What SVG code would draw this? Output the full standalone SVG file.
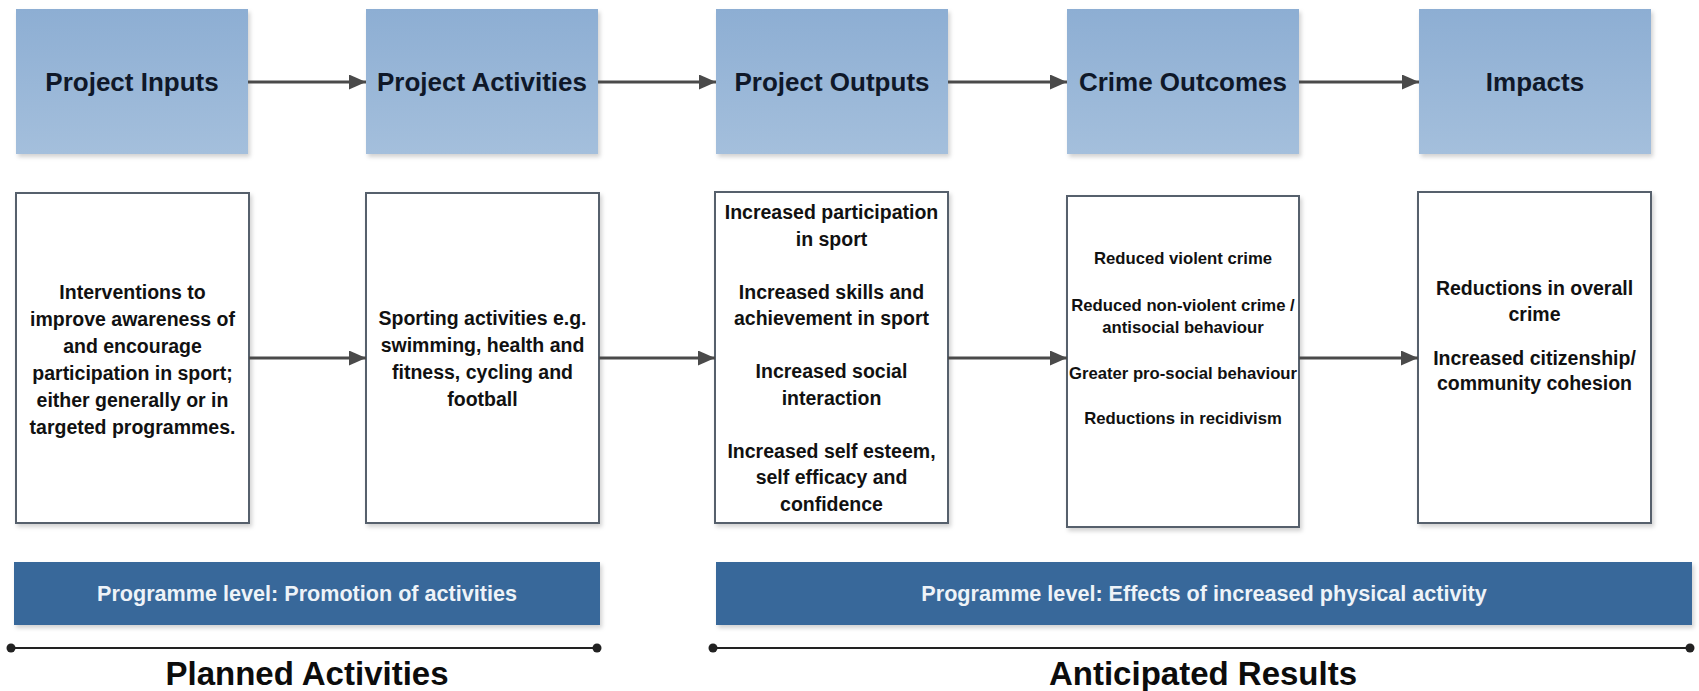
<svg xmlns="http://www.w3.org/2000/svg" width="1699" height="691" viewBox="0 0 1699 691">
  <defs>
    <linearGradient id="hdrGrad" x1="0" y1="0" x2="0" y2="1">
      <stop offset="0" stop-color="#8daed3"/>
      <stop offset="1" stop-color="#a4bfdc"/>
    </linearGradient>
    <filter id="shadow" x="-5%" y="-5%" width="115%" height="115%">
      <feDropShadow dx="2" dy="3" stdDeviation="2" flood-color="#000" flood-opacity="0.18"/>
    </filter>
    <marker id="arrow" markerUnits="userSpaceOnUse" markerWidth="18" markerHeight="16" refX="17" refY="7.5" orient="auto">
      <path d="M0,0 L17,7.5 L0,15 z" fill="#4a4a4a"/>
    </marker>
    <style>
      .hdr { fill: url(#hdrGrad); filter: url(#shadow); }
      .hdr-t { font-family: "Liberation Sans", Arial, sans-serif; font-weight: bold; font-size: 26px; fill: #0f1829; text-anchor: middle; }
      .box { fill: #ffffff; stroke: #56616c; stroke-width: 2; filter: url(#shadow); }
      .box-t { font-family: "Liberation Sans", Arial, sans-serif; font-weight: bold; font-size: 19.5px; fill: #111111; text-anchor: middle; }
      .box-s { font-family: "Liberation Sans", Arial, sans-serif; font-weight: bold; font-size: 16.7px; fill: #111111; text-anchor: middle; }
      .band { fill: #39689a; filter: url(#shadow); }
      .band-t { font-family: "Liberation Sans", Arial, sans-serif; font-weight: bold; font-size: 21.6px; fill: #eef3f8; text-anchor: middle; }
      .conn { stroke: #4a4a4a; stroke-width: 3; fill: none; marker-end: url(#arrow); }
      .tl { stroke: #222; stroke-width: 2.2; }
      .tl-dot { fill: #222; }
      .tl-t { font-family: "Liberation Sans", Arial, sans-serif; font-weight: bold; font-size: 33px; fill: #0c0c0c; text-anchor: middle; }
    </style>
  </defs>
  <rect width="1699" height="691" fill="#ffffff"/>

  <!-- Header nodes -->
  <g id="hdr-inputs">
    <rect class="hdr" x="16" y="9" width="232" height="145"/>
    <text class="hdr-t" x="132" y="91">Project Inputs</text>
  </g>
  <g id="hdr-activities">
    <rect class="hdr" x="366" y="9" width="232" height="145"/>
    <text class="hdr-t" x="482" y="91">Project Activities</text>
  </g>
  <g id="hdr-outputs">
    <rect class="hdr" x="716" y="9" width="232" height="145"/>
    <text class="hdr-t" x="832" y="91">Project Outputs</text>
  </g>
  <g id="hdr-outcomes">
    <rect class="hdr" x="1067" y="9" width="232" height="145"/>
    <text class="hdr-t" x="1183" y="91">Crime Outcomes</text>
  </g>
  <g id="hdr-impacts">
    <rect class="hdr" x="1419" y="9" width="232" height="145"/>
    <text class="hdr-t" x="1535" y="91">Impacts</text>
  </g>

  <!-- Detail nodes -->
  <g id="box-inputs">
    <rect class="box" x="16" y="193" width="233" height="330"/>
    <text class="box-t" x="132.5" y="299">Interventions to</text>
    <text class="box-t" x="132.5" y="326">improve awareness of</text>
    <text class="box-t" x="132.5" y="353">and encourage</text>
    <text class="box-t" x="132.5" y="380">participation in sport;</text>
    <text class="box-t" x="132.5" y="407">either generally or in</text>
    <text class="box-t" x="132.5" y="434">targeted programmes.</text>
  </g>
  <g id="box-activities">
    <rect class="box" x="366" y="193" width="233" height="330"/>
    <text class="box-t" x="482.5" y="325">Sporting activities e.g.</text>
    <text class="box-t" x="482.5" y="352">swimming, health and</text>
    <text class="box-t" x="482.5" y="379">fitness, cycling and</text>
    <text class="box-t" x="482.5" y="406">football</text>
  </g>
  <g id="box-outputs">
    <rect class="box" x="715" y="192" width="233" height="331"/>
    <text class="box-t" x="831.5" y="219">Increased participation</text>
    <text class="box-t" x="831.5" y="245.5">in sport</text>
    <text class="box-t" x="831.5" y="298.5">Increased skills and</text>
    <text class="box-t" x="831.5" y="325">achievement in sport</text>
    <text class="box-t" x="831.5" y="378">Increased social</text>
    <text class="box-t" x="831.5" y="404.5">interaction</text>
    <text class="box-t" x="831.5" y="457.5">Increased self esteem,</text>
    <text class="box-t" x="831.5" y="484">self efficacy and</text>
    <text class="box-t" x="831.5" y="510.5">confidence</text>
  </g>
  <g id="box-outcomes">
    <rect class="box" x="1067" y="196" width="232" height="331"/>
    <text class="box-s" x="1183" y="264">Reduced violent crime</text>
    <text class="box-s" x="1183" y="311">Reduced non-violent crime /</text>
    <text class="box-s" x="1183" y="333">antisocial behaviour</text>
    <text class="box-s" x="1183" y="379">Greater pro-social behaviour</text>
    <text class="box-s" x="1183" y="424">Reductions in recidivism</text>
  </g>
  <g id="box-impacts">
    <rect class="box" x="1418" y="192" width="233" height="331"/>
    <text class="box-t" x="1534.5" y="295">Reductions in overall</text>
    <text class="box-t" x="1534.5" y="321">crime</text>
    <text class="box-t" x="1534.5" y="365">Increased citizenship/</text>
    <text class="box-t" x="1534.5" y="390">community cohesion</text>
  </g>

  <!-- Connectors -->
  <g id="connectors">
    <line class="conn" x1="248" y1="82" x2="366" y2="82"/>
    <line class="conn" x1="598" y1="82" x2="716" y2="82"/>
    <line class="conn" x1="948" y1="82" x2="1067" y2="82"/>
    <line class="conn" x1="1299" y1="82" x2="1419" y2="82"/>
    <line class="conn" x1="249" y1="358" x2="366" y2="358"/>
    <line class="conn" x1="599" y1="358" x2="715" y2="358"/>
    <line class="conn" x1="948" y1="358" x2="1067" y2="358"/>
    <line class="conn" x1="1299" y1="358" x2="1418" y2="358"/>
  </g>

  <!-- Programme level bands -->
  <g id="band-promotion">
    <rect class="band" x="14" y="562" width="586" height="63"/>
    <text class="band-t" x="307" y="601">Programme level: Promotion of activities</text>
  </g>
  <g id="band-effects">
    <rect class="band" x="716" y="562" width="976" height="63"/>
    <text class="band-t" x="1204" y="601">Programme level: Effects of increased physical activity</text>
  </g>

  <!-- Timelines -->
  <g id="timeline-planned">
    <line class="tl" x1="11" y1="648" x2="597" y2="648"/>
    <circle class="tl-dot" cx="11" cy="648" r="4.5"/>
    <circle class="tl-dot" cx="597" cy="648" r="4.5"/>
    <text class="tl-t" x="307" y="685">Planned Activities</text>
  </g>
  <g id="timeline-anticipated">
    <line class="tl" x1="713" y1="648" x2="1690" y2="648"/>
    <circle class="tl-dot" cx="713" cy="648" r="4.5"/>
    <circle class="tl-dot" cx="1690" cy="648" r="4.5"/>
    <text class="tl-t" x="1203" y="685">Anticipated Results</text>
  </g>
</svg>
